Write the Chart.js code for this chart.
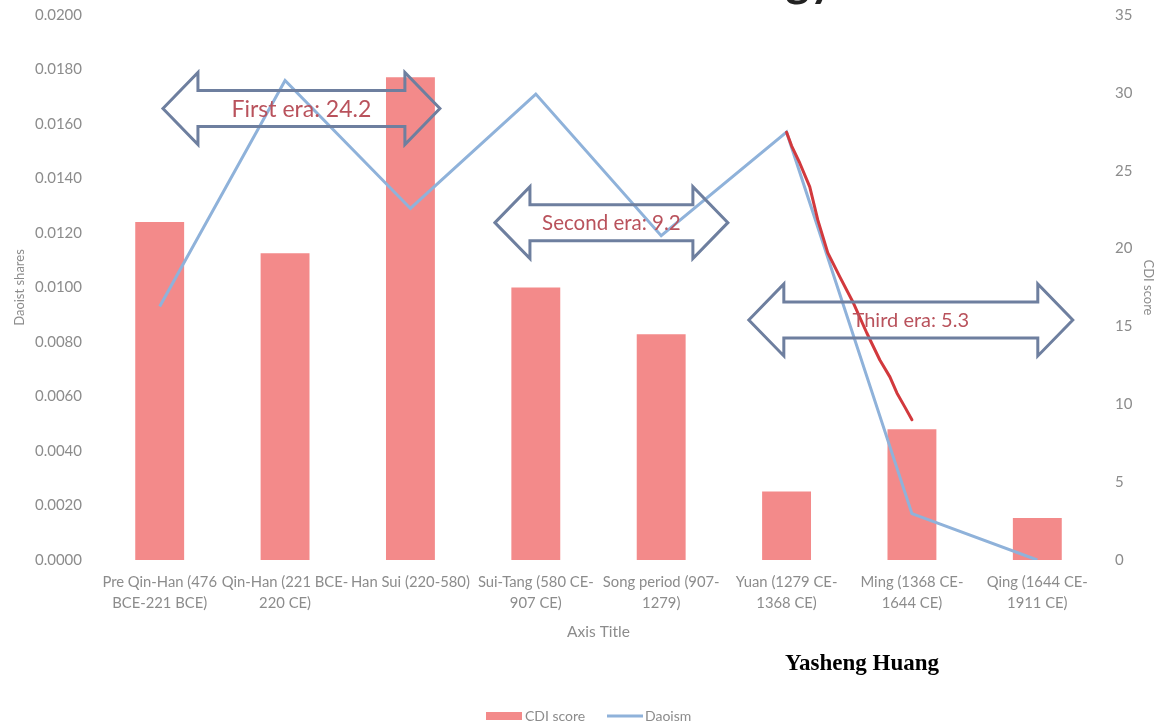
<!DOCTYPE html>
<html>
<head>
<meta charset="utf-8">
<script src="https://cdn.jsdelivr.net/npm/chart.js@4.4.1/dist/chart.umd.min.js"></script>
<style>
  html, body { margin: 0; padding: 0; background: #ffffff; }
</style>
</head>
<body>
<canvas id="myChart" width="1160" height="722"></canvas>
<script>
/*** Datos del grafico */
var periodos = [
    ["Pre Qin-Han (476", "BCE-221 BCE)"],
    ["Qin-Han (221 BCE-", "220 CE)"],
    "Han Sui (220-580)",
    ["Sui-Tang (580 CE-", "907 CE)"],
    ["Song period (907-", "1279)"],
    ["Yuan (1279 CE-", "1368 CE)"],
    ["Ming (1368 CE-", "1644 CE)"],
    ["Qing (1644 CE-", "1911 CE)"]
];
var cdi_score = [21.7, 19.7, 31.0, 17.5, 14.5, 4.4, 8.4, 2.7];
var daoismo = [0.0093, 0.0176, 0.0129, 0.0171, 0.0119, 0.0157, 0.0017, 0.0000];

// flechas de las eras: inicio y fin en indice de categoria, centro en "Daoist shares"
var eras_texto = ["First era: 24.2", "Second era: 9.2", "Third era: 5.3"];
var eras_desde = [0.026, 2.674, 4.699];
var eras_hasta = [2.235, 4.532, 7.283];
var eras_nivel = [0.01657, 0.01238, 0.00881];

// trazo rojo a mano (indice de categoria, Daoist shares)
var trazo_x = [5.0, 5.04, 5.105, 5.185, 5.249, 5.329, 5.425, 5.529, 5.64, 5.744, 5.824, 5.88, 5.944, 6.0];
var trazo_y = [0.0157, 0.0152, 0.01457, 0.01369, 0.01248, 0.01127, 0.01039, 0.00947, 0.00833, 0.00734, 0.00672, 0.00613, 0.00561, 0.00515];

var gris = '#8c8c8c';
var fuente = 'Lato, "Open Sans", sans-serif';

var dibujosExtra = {
    id: 'dibujosExtra',
    afterDatasetsDraw: function(chart) {
        var ctx = chart.ctx;
        var sx = chart.scales.x;
        var sy = chart.scales.y;

        // trazo rojo
        ctx.save();
        ctx.strokeStyle = '#d2393d';
        ctx.lineWidth = 3;
        ctx.lineJoin = 'round';
        ctx.lineCap = 'round';
        ctx.beginPath();
        for (var i = 0; i < trazo_x.length; i++) {
            var px = sx.getPixelForValue(trazo_x[i]);
            var py = sy.getPixelForValue(trazo_y[i]);
            if (i === 0) ctx.moveTo(px, py); else ctx.lineTo(px, py);
        }
        ctx.stroke();
        ctx.restore();

        // flechas dobles
        var tamanos = [23, 20.5, 20];
        for (var k = 0; k < eras_texto.length; k++) {
            var x1 = sx.getPixelForValue(eras_desde[k]);
            var x2 = sx.getPixelForValue(eras_hasta[k]);
            var cy = sy.getPixelForValue(eras_nivel[k]);
            var bh = 18, hh = 36, hl = 35;
            ctx.save();
            ctx.strokeStyle = '#6e7f9f';
            ctx.lineWidth = 3;
            ctx.lineJoin = 'miter';
            ctx.beginPath();
            ctx.moveTo(x1, cy);
            ctx.lineTo(x1 + hl, cy - hh);
            ctx.lineTo(x1 + hl, cy - bh);
            ctx.lineTo(x2 - hl, cy - bh);
            ctx.lineTo(x2 - hl, cy - hh);
            ctx.lineTo(x2, cy);
            ctx.lineTo(x2 - hl, cy + hh);
            ctx.lineTo(x2 - hl, cy + bh);
            ctx.lineTo(x1 + hl, cy + bh);
            ctx.lineTo(x1 + hl, cy + hh);
            ctx.closePath();
            ctx.stroke();
            ctx.fillStyle = '#b9525c';
            ctx.font = tamanos[k] + 'px ' + fuente;
            ctx.textAlign = 'center';
            ctx.textBaseline = 'middle';
            ctx.fillText(eras_texto[k], (x1 + x2) / 2, cy + 1);
            ctx.restore();
        }
    },
    afterDraw: function(chart) {
        var ctx = chart.ctx;
        ctx.save();
        // resto del titulo cortado arriba
        ctx.fillStyle = '#222222';
        ctx.font = 'bold 46px ' + fuente;
        ctx.textAlign = 'right';
        ctx.textBaseline = 'alphabetic';
        ctx.fillText('gy', 834, -4);

        // autor
        ctx.fillStyle = '#000000';
        ctx.font = 'bold 23px "Liberation Serif", "DejaVu Serif", serif';
        ctx.textAlign = 'center';
        ctx.textBaseline = 'middle';
        ctx.fillText('Yasheng Huang', 862, 664);

        // leyenda
        var ds = chart.data.datasets;
        ctx.font = '14px ' + fuente;
        ctx.textAlign = 'left';
        ctx.fillStyle = ds[0].backgroundColor;
        ctx.fillRect(486, 712, 36, 8);
        ctx.fillStyle = gris;
        ctx.fillText(ds[0].label, 525, 716);
        ctx.strokeStyle = ds[1].borderColor;
        ctx.lineWidth = 3;
        ctx.beginPath();
        ctx.moveTo(607, 716);
        ctx.lineTo(643, 716);
        ctx.stroke();
        ctx.fillText(ds[1].label, 645, 716);
        ctx.restore();
    }
};

function ajusteVertical(ancho) {
    return function(scale) {
        scale.width = ancho;
        scale.paddingTop = 0;
        scale.paddingBottom = 0;
    };
}

var ctx = document.getElementById("myChart").getContext('2d');
var myChart = new Chart(ctx, {
    type: 'bar',
    data: {
        labels: periodos,
        datasets: [{
            label: 'CDI score',
            data: cdi_score,
            yAxisID: 'y2',
            backgroundColor: '#f38a8a',
            barPercentage: 0.39,
            categoryPercentage: 1,
            order: 2
        }, {
            type: 'line',
            label: 'Daoism',
            data: daoismo,
            yAxisID: 'y',
            borderColor: '#8fb2da',
            backgroundColor: '#8fb2da',
            borderWidth: 3,
            pointRadius: 0,
            tension: 0,
            fill: false,
            order: 1
        }]
    },
    options: {
        responsive: false,
        animation: false,
        layout: { padding: { top: 15, bottom: 72, left: 0, right: 0 } },
        plugins: {
            legend: { display: false },
            tooltip: { enabled: false }
        },
        scales: {
            x: {
                grid: { display: false, drawTicks: false },
                border: { display: false },
                ticks: {
                    color: gris, padding: 11.5, maxRotation: 0, autoSkip: false,
                    font: { family: fuente, size: 14.8, lineHeight: 1.42 }
                },
                title: {
                    display: true, text: 'Axis Title', color: gris,
                    font: { family: fuente, size: 15.5 }, padding: { top: 4, bottom: 9 }
                },
                afterFit: function(scale) { scale.height = 90; }
            },
            y: {
                position: 'left',
                min: 0, max: 0.02,
                grid: { display: false, drawTicks: false },
                border: { display: false },
                ticks: {
                    stepSize: 0.002, color: gris, padding: 15,
                    font: { family: fuente, size: 15 },
                    callback: function(v) { return v.toFixed(4); }
                },
                title: {
                    display: true, text: 'Daoist shares', color: gris,
                    font: { family: fuente, size: 13 }, padding: { top: 12, bottom: 4 }
                },
                afterFit: ajusteVertical(97)
            },
            y2: {
                position: 'right',
                min: 0, max: 35,
                grid: { display: false, drawTicks: false },
                border: { display: false },
                ticks: {
                    stepSize: 5, color: gris, padding: 15,
                    font: { family: fuente, size: 15 }
                },
                title: {
                    display: true, text: 'CDI score', color: gris,
                    font: { family: fuente, size: 13 }, padding: { top: 4, bottom: 4 }
                },
                afterFit: ajusteVertical(60)
            }
        }
    },
    plugins: [dibujosExtra]
});
</script>
</body>
</html>
